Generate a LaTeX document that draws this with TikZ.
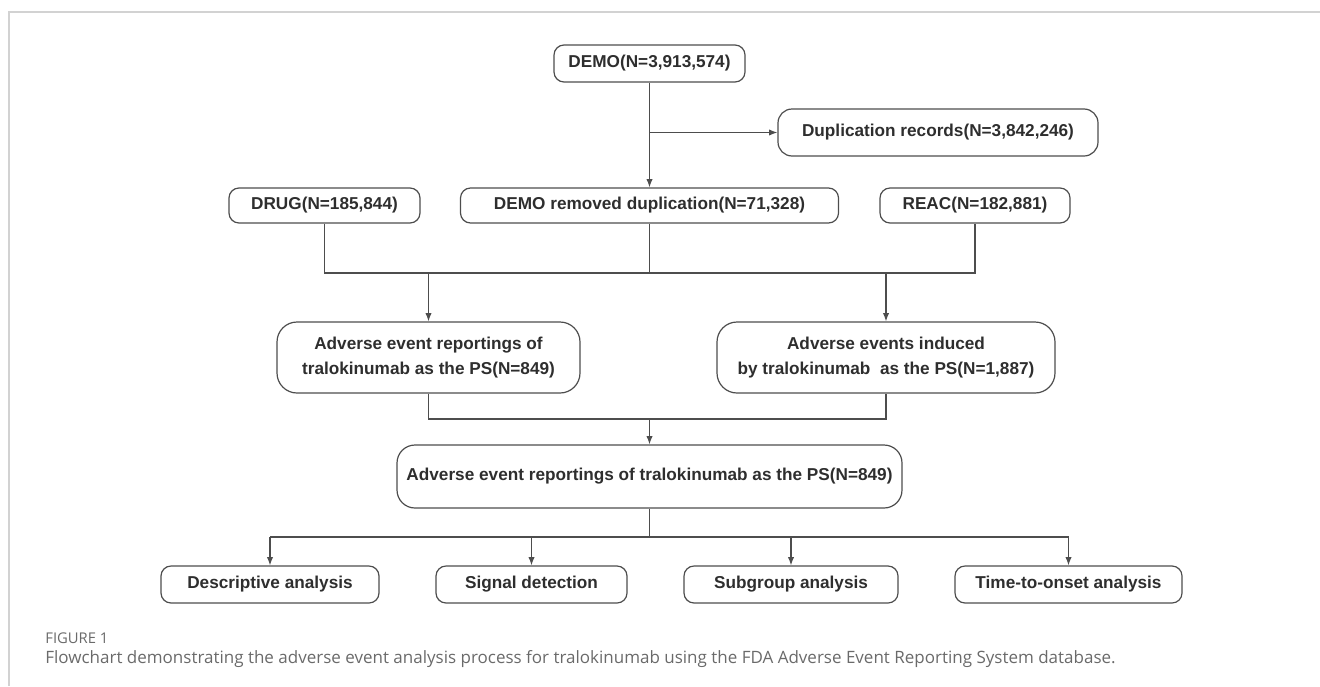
\documentclass[tikz,border=0pt]{standalone}
\usepackage{fontspec}
\setmainfont{Liberation Sans}
\newfontfamily\capfont{Open Sans}
\usetikzlibrary{arrows.meta}
\definecolor{linecol}{HTML}{4D4D4D}
\definecolor{txtcol}{HTML}{2E2E2E}
\definecolor{framecol}{HTML}{D2D2D2}
\definecolor{capcol}{HTML}{6A6A6A}

\begin{document}
\begin{tikzpicture}[
    x=0.5pt, y=-0.5pt,
    box/.style={draw=linecol, line width=0.6pt, rounded corners=#1, text=txtcol,
        font=\fontsize{8.6}{12.4}\selectfont\bfseries, align=center,
        inner sep=0pt, minimum height=18.5pt},
    box/.default=5pt,
    link/.style={draw=linecol, line width=0.6pt},
    arrow/.style={link, -{Latex[length=4.2pt,width=3.2pt]}}
]
    \useasboundingbox (0,0) rectangle (1320,686);
    \draw[framecol, line width=0.8pt] (9,686) -- (9,12) -- (1320,12);

    \node[box, minimum width=95.5pt] (demo) at (649.5,63.5) {DEMO(N=3,913,574)};
    \node[box=7pt, minimum width=160pt, minimum height=23.5pt] (dup) at (938,132.5) {Duplication records(N=3,842,246)};
    \node[box, minimum width=95.5pt, minimum height=17.5pt] (drug) at (324.5,205.5) {DRUG(N=185,844)};
    \node[box, minimum width=189pt, minimum height=17.5pt] (clean) at (649.5,205.5) {DEMO removed duplication(N=71,328)};
    \node[box, minimum width=95pt, minimum height=17.5pt] (reac) at (975,205.5) {REAC(N=182,881)};
    \node[box=10pt, minimum width=151.5pt, minimum height=35.5pt] (aeps) at (428.5,357.5) {Adverse event reportings of\\tralokinumab as the PS(N=849)};
    \node[box=10pt, minimum width=169pt, minimum height=35.5pt] (aeind) at (886,357.5) {Adverse events induced\\by tralokinumab~ as the PS(N=1,887)};
    \node[box=9pt, minimum width=252.5pt, minimum height=31.5pt] (merged) at (649.5,476.5) {Adverse event reportings of tralokinumab as the PS(N=849)};
    \node[box, minimum width=109pt] (desc) at (270,584.5) {Descriptive analysis};
    \node[box, minimum width=95.5pt] (signal) at (531.5,584.5) {Signal detection};
    \node[box, minimum width=107pt] (subgrp) at (791,584.5) {Subgroup analysis};
    \node[box, minimum width=113.5pt] (onset) at (1068.5,584.5) {Time-to-onset analysis};

    \coordinate (split) at (649.5,132.5);
    \coordinate (bus1) at (649.5,273);
    \coordinate (bus2) at (649.5,419);
    \coordinate (bus3) at (649.5,537);

    \draw[arrow] (demo) -- (clean);
    \draw[arrow] (split) -- (dup);
    \draw[link] (drug) -- (drug |- bus1) -- (reac |- bus1) -- (reac);
    \draw[link] (clean) -- (bus1);
    \draw[arrow] (aeps |- bus1) -- (aeps);
    \draw[arrow] (aeind |- bus1) -- (aeind);
    \draw[link] (aeps) -- (aeps |- bus2) -- (aeind |- bus2) -- (aeind);
    \draw[arrow] (bus2) -- (merged);
    \draw[link] (merged) -- (bus3);
    \draw[link] (desc |- bus3) -- (onset |- bus3);
    \foreach \n in {desc,signal,subgrp,onset}
        \draw[arrow] (\n |- bus3) -- (\n);

    \node[anchor=west, inner sep=0pt, text=capcol, font=\capfont\fontsize{7.4}{9}\selectfont] (figlabel) at (45,638) {FIGURE 1};
    \node[anchor=west, inner sep=0pt, text=capcol, font=\capfont\fontsize{8.5}{10}\selectfont] (caption) at (45,659) {Flowchart demonstrating the adverse event analysis process for tralokinumab using the FDA Adverse Event Reporting System database.};
\end{tikzpicture}
\end{document}
